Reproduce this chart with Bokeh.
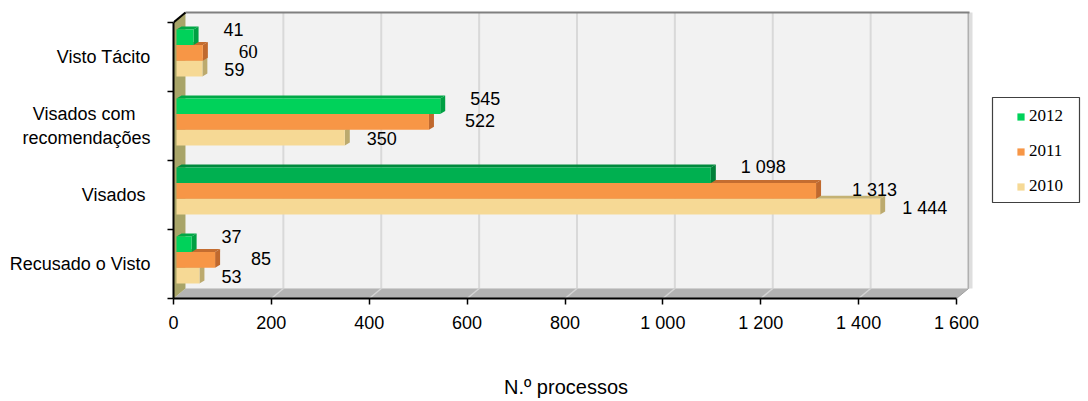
from bokeh.plotting import figure
from bokeh.models import ColumnDataSource, FixedTicker, Legend, LegendItem, Range1d, Title
from bokeh.embed import file_html
from bokeh.resources import INLINE

# ---------------- data ----------------
categories = ["Recusado o Visto", "Visados ", "Visados com   \nrecomendações", "Visto Tácito"]
years = ["2012", "2011", "2010"]
v2012 = [37, 1098, 545, 41]
v2011 = [85, 1313, 522, 60]
v2010 = [53, 1444, 350, 59]
x_ticks = [0, 200, 400, 600, 800, 1000, 1200, 1400, 1600]
x_tick_labels = ["0", "200", "400", "600", "800", "1 000", "1 200", "1 400", "1 600"]
x_title = "N.º processos"

# ---------------- geometry (pixels -> data units) ----------------
W, H = 1086, 400
LEFT, BOTTOM = 173, 102         # frame offsets inside the figure
KX = 783 / 1600.0               # px per x unit
KY = 69.0                       # px per category band
frame_w = W - LEFT
frame_h = H - BOTTOM


def ux(px):
    return px / KX


def uy(px):
    return px / KY


NCAT = len(categories)
XMAX = x_ticks[-1]
DX, DY = ux(12), uy(10)         # depth of the 3D box
BDX, BDY = ux(5), uy(3)         # depth of the bars
BH = uy(15.7)                   # bar thickness
X0 = ux(3)

p = figure(width=W, height=H, output_backend="svg", toolbar_location=None,
           x_range=Range1d(0, frame_w / KX), y_range=Range1d(0, frame_h / KY),
           min_border_left=LEFT, min_border_right=0, min_border_top=0,
           min_border_bottom=BOTTOM)
p.outline_line_color = None
p.xgrid.visible = False
p.ygrid.visible = False
p.background_fill_color = "white"
p.border_fill_color = "white"

# ---------------- 3D box ----------------
top_f = float(NCAT)
top_b = top_f + DY
# back wall
p.quad(left=[DX], right=[XMAX + DX], bottom=[DY], top=[top_b],
       fill_color="#f2f2f2", line_color=None)
# gridlines on back wall and floor
gx = [t + DX for t in x_ticks[1:-1]]
p.segment(x0=gx, y0=[DY] * len(gx), x1=gx, y1=[top_b] * len(gx),
          line_color="#d9d9d9", line_width=2)
# floor
p.patch([0, XMAX, XMAX + DX, DX], [0, 0, DY, DY], fill_color="#b3b3b3", line_color=None)
p.segment(x0=x_ticks[1:-1], y0=[0] * (len(x_ticks) - 2), x1=gx, y1=[DY] * len(gx),
          line_color="#d4d4d4", line_width=1.5)
p.segment(x0=[DX], y0=[DY], x1=[XMAX + DX], y1=[DY], line_color="#d0d0d0", line_width=1)
# right edge of back wall
p.segment(x0=[XMAX + DX], y0=[DY], x1=[XMAX + DX], y1=[top_b], line_color="#b0b0b0", line_width=2)
p.segment(x0=[XMAX + DX + ux(2.5)], y0=[DY], x1=[XMAX + DX + ux(2.5)], y1=[top_b],
          line_color="#dedede", line_width=3)
p.segment(x0=[XMAX], y0=[0], x1=[XMAX + DX], y1=[DY], line_color="#a0a0a0", line_width=1)
# top edge of back wall
p.segment(x0=[DX], y0=[top_b], x1=[XMAX + DX + ux(1)], y1=[top_b], line_color="#808080", line_width=2)
# left wall
p.patch([0, 0, DX, DX], [0, top_f, top_b, DY], fill_color="#a8a468", line_color=None)
p.segment(x0=[0], y0=[top_f], x1=[DX], y1=[top_b], line_color="black", line_width=2)

# ---------------- bars ----------------
styles = {
    "2012": dict(face="#00d25a", side="#00a043", top="#00a846"),
    "2011": dict(face="#f79646", side="#c0692e", top="#c46d30"),
    "2010": dict(face="#f6d995", side="#bcaa6e", top="#c4b274"),
}
dark_green = dict(face="#00b050", side="#007f38", top="#008a3d")
series = {"2012": v2012, "2011": v2011, "2010": v2010}
# stacking order within a band, from bottom
order = ["2010", "2011", "2012"]
label_off = {"2012": (30, -8), "2011": (36, -1), "2010": (22, 1)}   # px (right, down)

legend_renderers = {}
lab_x, lab_y, lab_t, lab_f, lab_s = [], [], [], [], []
for k, yr in enumerate(order):
    vals = series[yr]
    fx, fy, fc, sx, sy, sc, tx, ty, tc = [], [], [], [], [], [], [], [], []
    for i, v in enumerate(vals):
        c = i + 0.5
        b = c - uy(19.5) + k * BH
        t = b + BH
        st = dark_green if (yr == "2012" and i == 1) else styles[yr]
        fx.append([X0, v, v, X0]); fy.append([b, b, t, t]); fc.append(st["face"])
        sx.append([v, v + BDX, v + BDX, v]); sy.append([b, b + BDY, t + BDY, t]); sc.append(st["side"])
        tx.append([X0, v, v + BDX, X0 + BDX]); ty.append([t, t, t + BDY, t + BDY]); tc.append(st["top"])
        ox, oy = label_off[yr]
        lab_x.append(v + ux(ox)); lab_y.append((b + t) / 2 - uy(oy))
        lab_t.append(f"{v:,}".replace(",", " "))
        serif = (yr == "2011" and i == 3)
        lab_f.append("Liberation Serif" if serif else "Liberation Sans")
        lab_s.append("19px" if serif else "18px")
    p.patches(xs=tx, ys=ty, fill_color=tc, line_color=None)
    p.patches(xs=sx, ys=sy, fill_color=sc, line_color=None)
    r = p.patches(xs="xs", ys="ys", fill_color="fc", line_color=None,
                  source=ColumnDataSource(dict(xs=fx, ys=fy, fc=fc)))
    legend_renderers[yr] = r

src_lab = ColumnDataSource(dict(x=lab_x, y=lab_y, t=lab_t, f=lab_f, s=lab_s))
p.text(x="x", y="y", text="t", text_font="f", text_font_size="s",
       text_baseline="middle", text_align="left", text_color="black", source=src_lab)

# ---------------- axes ----------------
xa = p.xaxis[0]
xa.bounds = (0, XMAX)
xa.ticker = FixedTicker(ticks=x_ticks, minor_ticks=[])
xa.major_label_overrides = {t: l for t, l in zip(x_ticks, x_tick_labels)}
xa.major_tick_out = 6
xa.major_tick_in = 0
xa.axis_line_color = "black"
xa.axis_line_width = 2
xa.major_tick_line_color = "black"
xa.major_tick_line_width = 1.5
xa.major_label_text_font = "Liberation Sans"
xa.major_label_text_font_size = "18px"
xa.major_label_text_color = "black"
xa.major_label_standoff = 8

# axis title centred under the 0..1600 scale (frame is wider because of the legend);
# an invisible spacer panel pushes it down below the tick labels
p.add_layout(Title(text=" ", text_font_size="1px", standoff=37), "below")
title_w = 122  # rendered width of the title text in px
offset_px = (XMAX / 2) * KX - title_w / 2
p.add_layout(Title(text=x_title, align="left", offset=offset_px, standoff=0,
                   vertical_align="top",
                   text_font="Liberation Sans", text_font_size="20px",
                   text_font_style="normal", text_color="black"), "below")

ya = p.yaxis[0]
ya.bounds = (0, NCAT)
ya.ticker = FixedTicker(ticks=[i + 0.5 for i in range(NCAT)], minor_ticks=list(range(NCAT + 1)))
ya.major_label_overrides = {i + 0.5: c for i, c in enumerate(categories)}
ya.major_tick_out = 0
ya.major_tick_in = 0
ya.minor_tick_out = 6
ya.minor_tick_in = 0
ya.minor_tick_line_color = "black"
ya.minor_tick_line_width = 1.5
ya.axis_line_color = "black"
ya.axis_line_width = 2
ya.major_label_text_font = "Liberation Sans"
ya.major_label_text_font_size = "18px"
ya.major_label_text_color = "black"
ya.major_label_standoff = 17

# ---------------- legend ----------------
p.quad(left=[ux(819)], right=[ux(906)], bottom=[uy(96)], top=[uy(201)],
       fill_color=None, line_color="#404040", line_width=1.2)
legend = Legend(items=[LegendItem(label=y, renderers=[legend_renderers[y]]) for y in years],
                location=(843, 102), orientation="vertical",
                glyph_width=9, glyph_height=9, label_height=18, spacing=15,
                label_standoff=4, padding=0, margin=0,
                border_line_alpha=0, background_fill_alpha=0,
                label_text_font="Liberation Serif", label_text_font_size="17px",
                label_text_color="black")
p.add_layout(legend)

open("out.html", "w").write(file_html(p, INLINE))
